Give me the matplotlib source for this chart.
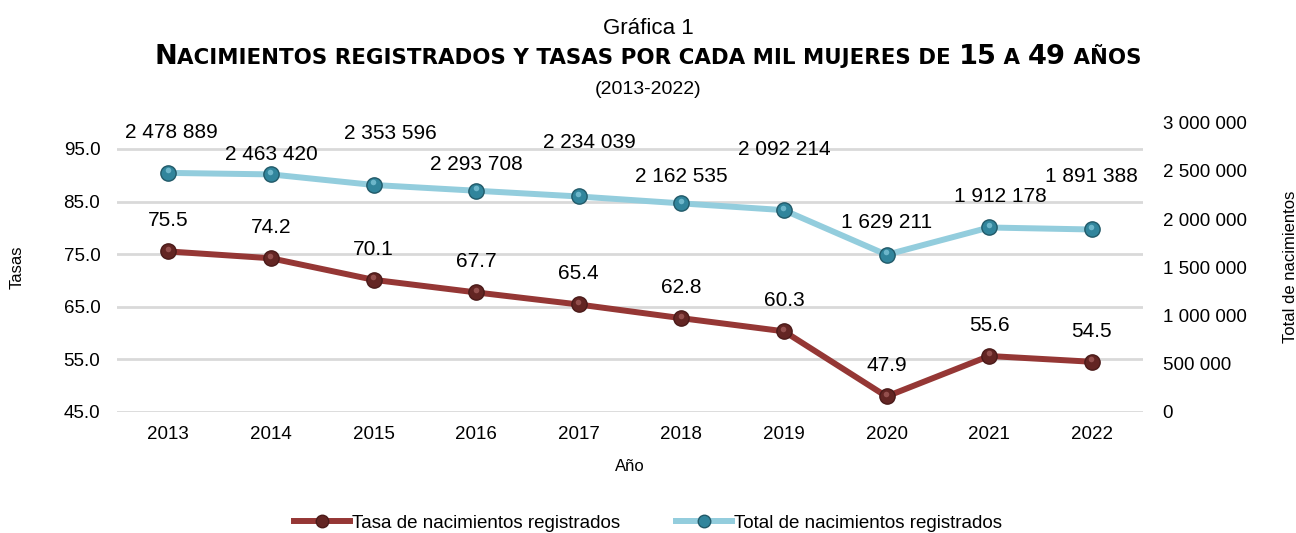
import numpy as np
import matplotlib.pyplot as plt
import matplotlib.transforms as mtransforms
from matplotlib.lines import Line2D

plt.rcParams['font.family'] = ['Liberation Sans', 'DejaVu Sans']

years = [2013, 2014, 2015, 2016, 2017, 2018, 2019, 2020, 2021, 2022]
tasas = [75.5, 74.2, 70.1, 67.7, 65.4, 62.8, 60.3, 47.9, 55.6, 54.5]
totales = [2478889, 2463420, 2353596, 2293708, 2234039, 2162535, 2092214, 1629211, 1912178, 1891388]

# label offsets for the totals (points), as placed in the original
tot_dy = [29, 14, 37, 19, 39, 19, 44, 23, 22, 38]
tot_dx = [2, 0, 12, 0, 8, 0, 0, 0, 8, 0]

red_line, red_mk = '#953735', '#632523'
blue_line, blue_mk = '#93CDDD', '#31859C'

fig = plt.figure(figsize=(12.96, 5.33), dpi=100)
ax = fig.add_axes([0.0903, 0.2276, 0.7917, 0.5422])
ax2 = ax.twinx()

x = np.arange(len(years))

ax.plot(x, tasas, color=red_line, lw=4.3, marker='o', ms=11,
        mfc=red_mk, mec='#4a1a19', mew=1, zorder=3, solid_capstyle='round')
ax2.plot(x, totales, color=blue_line, lw=4.3, marker='o', ms=11,
         mfc=blue_mk, mec='#215968', mew=1, zorder=3, solid_capstyle='round')

# small highlight on the markers (sphere look)
hl1 = mtransforms.offset_copy(ax.transData, fig=fig, x=-0.5, y=2.5, units='dots')
hl2 = mtransforms.offset_copy(ax2.transData, fig=fig, x=-0.5, y=2.5, units='dots')
ax.plot(x, tasas, ls='none', marker='o', ms=4, mfc='#a05a58', mec='none',
        alpha=0.8, transform=hl1, zorder=4)
ax2.plot(x, totales, ls='none', marker='o', ms=4, mfc='#7cc3d6', mec='none',
         alpha=0.8, transform=hl2, zorder=4)

for i, v in enumerate(tasas):
    ax.annotate('%.1f' % v, (x[i], v), xytext=(0, 22), textcoords='offset points',
                ha='center', va='center', fontsize=15)
for i, v in enumerate(totales):
    s = '{:,}'.format(v).replace(',', ' ')
    ax2.annotate(s, (x[i], v), xytext=(tot_dx[i], tot_dy[i]), textcoords='offset points',
                 ha='center', va='center', fontsize=15)

ax.set_xlim(-0.5, len(years) - 0.5)
ax.set_ylim(45, 100)
ax.set_yticks([45, 55, 65, 75, 85, 95])
ax.set_yticklabels(['%.1f' % t for t in [45, 55, 65, 75, 85, 95]])
ax2.set_ylim(0, 3000000)
rticks = [0, 500000, 1000000, 1500000, 2000000, 2500000, 3000000]
ax2.set_yticks(rticks)
ax2.set_yticklabels(['{:,}'.format(t).replace(',', ' ') for t in rticks])

ax.set_xticks(x)
ax.set_xticklabels([str(y) for y in years])

ax.grid(axis='y', color='#D9D9D9', lw=2)
ax.set_axisbelow(True)
for a in (ax, ax2):
    for sp in a.spines.values():
        sp.set_visible(False)
    a.tick_params(length=0, labelsize=13.5)
ax.tick_params(axis='y', pad=12)
ax.tick_params(axis='x', pad=10)
ax2.tick_params(axis='y', pad=14)

ax.set_xlabel('Año', fontsize=12, labelpad=12)
ax.set_ylabel('Tasas', fontsize=12)
ax.yaxis.set_label_coords(-0.09, 0.5)
ax2.set_ylabel('Total de nacimientos', fontsize=12)
ax2.yaxis.set_label_coords(1.136, 0.5)

# titles
fig.text(0.5, 1 - 28 / 533, 'Gráfica 1', ha='center', va='center', fontsize=16)
fig.text(0.5, 1 - 89 / 533, '(2013-2022)', ha='center', va='center', fontsize=14)

# second title line in small caps, spread to the original width
pieces = [('N', 16), ('ACIMIENTOS REGISTRADOS Y TASAS POR CADA MIL MUJERES DE ', 12.5),
          ('15', 16), (' A ', 12.5), ('49', 16), (' AÑOS', 12.5)]
renderer = fig.canvas.get_renderer()
texts = []
for s, size in pieces:
    t = fig.text(0, 1 - 64 / 533, s, fontsize=size, fontweight='bold',
                 family='DejaVu Sans', ha='left', va='baseline')
    texts.append(t)
w0 = sum(t.get_window_extent(renderer).width for t in texts)
k = 985 / w0
for t, (s, size) in zip(texts, pieces):
    t.set_fontsize(size * k)
widths = [t.get_window_extent(renderer).width for t in texts]
start = (fig.bbox.width - sum(widths)) / 2
for t, w in zip(texts, widths):
    t.set_x(start / fig.bbox.width)
    start += w

handles = [Line2D([], [], color=red_line, lw=4.3, marker='o', ms=9, mfc=red_mk, mec='#4a1a19'),
           Line2D([], [], color=blue_line, lw=4.3, marker='o', ms=9, mfc=blue_mk, mec='#215968')]
fig.legend(handles, ['Tasa de nacimientos registrados', 'Total de nacimientos registrados'],
           loc='center', bbox_to_anchor=(0.5, 1 - 523 / 533), ncol=2, frameon=False,
           fontsize=13.5, handlelength=3, handletextpad=0.1, columnspacing=3)

fig.savefig('out.png', dpi=100)
